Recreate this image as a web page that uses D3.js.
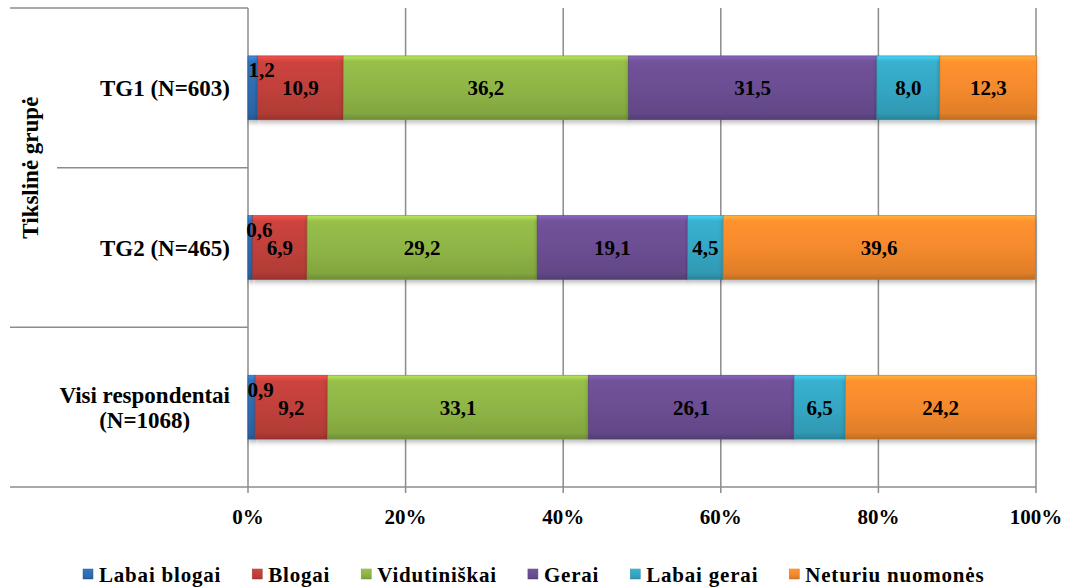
<!DOCTYPE html>
<html>
<head>
<meta charset="utf-8">
<script src="https://cdn.jsdelivr.net/npm/d3@7"></script>
<style>
  body { margin: 0; background: #fff; }
  svg text { font-family: "Liberation Serif", "Times New Roman", serif; font-weight: bold; fill: #000; }
</style>
</head>
<body>
<svg width="1067" height="587"></svg>
<script>
// duomenys
var categories = ["TG1 (N=603)", "TG2 (N=465)", "Visi respondentai (N=1068)"];
var series = ["Labai blogai", "Blogai", "Vidutiniškai", "Gerai", "Labai gerai", "Neturiu nuomonės"];
var labaiBlogai = [1.2, 0.6, 0.9];
var blogai = [10.9, 6.9, 9.2];
var vidutiniskai = [36.2, 29.2, 33.1];
var gerai = [31.5, 19.1, 26.1];
var labaiGerai = [8.0, 4.5, 6.5];
var neturiu = [12.3, 39.6, 24.2];
var ticks = [0, 20, 40, 60, 80, 100];
var groupTitle = "Tikslinė grupė";

var colors = ["#2f6db3", "#c1403b", "#8fb546", "#6b4e93", "#35a7c4", "#f58a2d"];
var values = [labaiBlogai, blogai, vidutiniskai, gerai, labaiGerai, neturiu];

var svg = d3.select("svg"),
    plotL = 248, plotR = 1036, plotT = 8, plotB = 487;

var x = d3.scaleLinear().domain([0, 100]).range([plotL, plotR]);
var y = d3.scaleBand().domain(categories).range([plotT, plotB]).paddingInner(0.6).paddingOuter(0.3);

// gradientai bevel efektui
var defs = svg.append("defs");
colors.forEach(function(c, i) {
  var g = defs.append("linearGradient").attr("id", "grad" + i)
    .attr("x1", 0).attr("y1", 0).attr("x2", 0).attr("y2", 1);
  var base = d3.color(c);
  g.append("stop").attr("offset", "0%").attr("stop-color", base.brighter(0.7));
  g.append("stop").attr("offset", "9%").attr("stop-color", base.brighter(0.15));
  g.append("stop").attr("offset", "50%").attr("stop-color", base);
  g.append("stop").attr("offset", "90%").attr("stop-color", base.darker(0.25));
  g.append("stop").attr("offset", "100%").attr("stop-color", base.darker(0.7));
});
var sh = defs.append("filter").attr("id", "shadow").attr("x", "-5%").attr("y", "-20%").attr("width", "110%").attr("height", "150%");
sh.append("feDropShadow").attr("dx", 0).attr("dy", 3).attr("stdDeviation", 2).attr("flood-color", "#000").attr("flood-opacity", 0.25);

// tinklelis
svg.append("g").selectAll("line").data(ticks.slice(1)).enter().append("line")
  .attr("x1", function(d) { return x(d); }).attr("x2", function(d) { return x(d); })
  .attr("y1", plotT).attr("y2", plotB + 6)
  .attr("stroke", "#8c8c8c").attr("stroke-width", 1.5);

// kategoriju asis su grupavimu
var step = y.step();
var axisG = svg.append("g").attr("stroke", "#8c8c8c").attr("stroke-width", 1.5);
axisG.append("line").attr("x1", 10).attr("x2", plotL).attr("y1", plotT).attr("y2", plotT);
axisG.append("line").attr("x1", 57).attr("x2", plotL).attr("y1", plotT + step).attr("y2", plotT + step);
axisG.append("line").attr("x1", 10).attr("x2", plotL).attr("y1", plotT + 2 * step).attr("y2", plotT + 2 * step);
axisG.append("line").attr("x1", 10).attr("x2", plotR).attr("y1", plotB).attr("y2", plotB);
axisG.append("line").attr("x1", plotL).attr("x2", plotL).attr("y1", plotT).attr("y2", plotB + 6);

// stulpeliai
var stacked = d3.stack().keys(d3.range(series.length))
  .value(function(d, k) { return values[k][d]; })(d3.range(categories.length));

var barG = svg.append("g");
stacked.forEach(function(layer, k) {
  barG.selectAll(".s" + k).data(layer).enter().append("rect")
    .attr("x", function(d) { return x(d[0]); })
    .attr("y", function(d, i) { return y(categories[i]); })
    .attr("width", function(d) { return x(d[1]) - x(d[0]); })
    .attr("height", y.bandwidth())
    .attr("fill", "url(#grad" + k + ")")
    .attr("stroke", d3.color(colors[k]).darker(0.6))
    .attr("stroke-width", 0.6)
    .attr("filter", "url(#shadow)");
});

// reiksmiu etiketes
var fmt = function(v) { return v.toFixed(1).replace(".", ","); };
stacked.forEach(function(layer, k) {
  svg.append("g").selectAll("text").data(layer).enter().append("text")
    .attr("x", function(d) {
      var cx = (x(d[0]) + x(d[1])) / 2;
      return (d[1] - d[0]) < 2 ? cx + 9 : cx;
    })
    .attr("y", function(d, i) {
      var cy = y(categories[i]) + y.bandwidth() / 2;
      return (d[1] - d[0]) < 2 ? cy - 18 : cy;
    })
    .attr("dy", "0.35em")
    .attr("text-anchor", "middle")
    .style("font-size", "21px")
    .text(function(d, i) { return fmt(values[k][i]); });
});

// kategoriju pavadinimai (desinėje lygiuoti ties 230)
var catG = svg.append("g");
categories.forEach(function(c) {
  var cy = y(c) + y.bandwidth() / 2;
  var t = catG.append("text").style("font-size", "23px");
  if (c.indexOf("Visi") === 0) {
    t.attr("text-anchor", "middle").attr("y", cy - 12).attr("dy", "0.35em");
    var l1 = t.append("tspan").text("Visi respondentai");
    var w = l1.node().getComputedTextLength();
    l1.attr("x", 230 - w / 2);
    t.append("tspan").attr("x", 230 - w / 2).attr("dy", 25).text("(N=1068)");
  } else {
    t.attr("text-anchor", "end").attr("x", 230).attr("y", cy).attr("dy", "0.35em").text(c);
  }
});

svg.append("text")
  .attr("transform", "translate(30," + (plotT + step) + ") rotate(-90)")
  .attr("text-anchor", "middle").attr("dy", "0.35em")
  .style("font-size", "23px")
  .text(groupTitle);

// x asies etiketes
svg.append("g").selectAll("text").data(ticks).enter().append("text")
  .attr("x", function(d) { return x(d); })
  .attr("y", 517).attr("dy", "0.35em")
  .attr("text-anchor", "middle")
  .style("font-size", "21px")
  .text(function(d) { return d + "%"; });

// legenda
var legend = svg.append("g");
var lx = 83;
series.forEach(function(s, k) {
  legend.append("rect").attr("x", lx).attr("y", 569).attr("width", 10).attr("height", 10)
    .attr("fill", "url(#grad" + k + ")").attr("stroke", d3.color(colors[k]).darker(0.5)).attr("stroke-width", 0.5);
  var t = legend.append("text").attr("x", lx + 16).attr("y", 575).attr("dy", "0.35em")
    .style("font-size", "21px").style("letter-spacing", "0.8px").text(s);
  lx += 16 + t.node().getComputedTextLength() + 31;
});
</script>
</body>
</html>
